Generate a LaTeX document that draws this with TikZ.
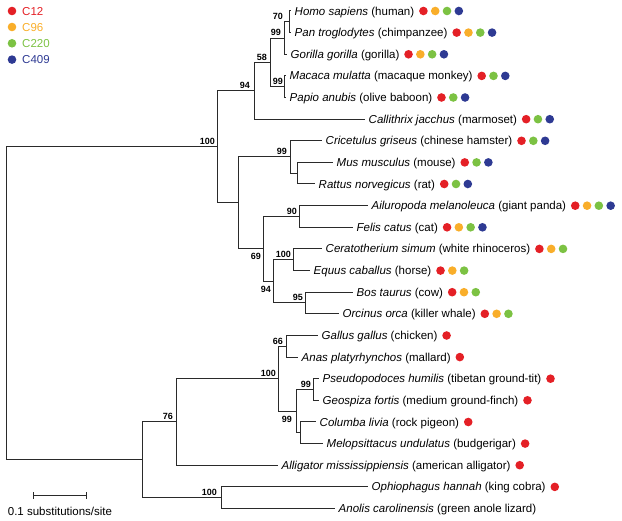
\documentclass[tikz,border=0pt]{standalone}
\usepackage{fontspec}
\setmainfont{Liberation Sans}
\definecolor{cR}{HTML}{E42026}
\definecolor{cO}{HTML}{F9AE2A}
\definecolor{cG}{HTML}{7CC243}
\definecolor{cB}{HTML}{2E3A93}
\definecolor{treec}{HTML}{2A2A2A}
\newcommand\markrow[2]{%
  \foreach \cc [count=\ii from 0] in {#2}{%
    \node[dotm, fill=\cc] (#1-\ii) at ([xshift={5.5pt+\ii*11.8pt}]#1.east) {};}}
\begin{document}
\begin{tikzpicture}[x=1pt,y=-1pt,
  branch/.style={draw=treec, line width=1pt},
  leaf/.style={anchor=west, inner xsep=3.5pt, inner ysep=0pt, text height=8.3pt, text depth=0.1pt, font=\fontsize{11.5}{13}\selectfont},
  dotm/.style={circle, inner sep=0pt, minimum size=8.6pt, draw=none},
  bs/.style={anchor=south east, inner sep=0pt, font=\bfseries\fontsize{9}{10}\selectfont, xshift=-2pt, yshift=2pt},
  bsb/.style={anchor=north east, inner sep=0pt, font=\bfseries\fontsize{9}{10}\selectfont, xshift=-2pt, yshift=-4.5pt},
]
\useasboundingbox (0,0) rectangle (622,521);

% legend
\node[dotm, fill=cR] (lg1) at (12,11) {};
\node[dotm, fill=cO] (lg2) at (12,27) {};
\node[dotm, fill=cG] (lg3) at (12,43.3) {};
\node[dotm, fill=cB] (lg4) at (12,59.6) {};
\node[leaf, text=cR] (lt1) at (18.5,11) {C12};
\node[leaf, text=cO] (lt2) at (18.5,27) {C96};
\node[leaf, text=cG] (lt3) at (18.5,43.3) {C220};
\node[leaf, text=cB] (lt4) at (18.5,59.6) {C409};

% internal nodes
\coordinate (root) at (6,303.4);
\coordinate (mam) at (217,146.9);
\coordinate (prim) at (254,90.8);
\coordinate (n58) at (270,62.4);
\coordinate (hpg) at (284,38.05);
\coordinate (hp) at (289,21.8);
\coordinate (mp) at (284,86.7);
\coordinate (n238) at (238,203);
\coordinate (rod) at (290,157);
\coordinate (mr) at (297,173.2);
\coordinate (laur) at (263,249);
\coordinate (pf) at (299,216.5);
\coordinate (ung) at (273,281.4);
\coordinate (rh) at (293,259.75);
\coordinate (bo) at (305,303);
\coordinate (sau) at (142,459.8);
\coordinate (arch) at (176,422);
\coordinate (birds) at (278,378.7);
\coordinate (ga) at (286,346.3);
\coordinate (nb) at (296,411.15);
\coordinate (pg) at (313,389.5);
\coordinate (cm) at (300,432.8);
\coordinate (squ) at (221,497.7);

% leaves
\node[leaf] (homo) at (291,11) {\textit{Homo sapiens} (human)};
\node[leaf] (pan) at (291,32.6) {\textit{Pan troglodytes} (chimpanzee)};
\node[leaf] (gor) at (287,54.3) {\textit{Gorilla gorilla} (gorilla)};
\node[leaf] (mac) at (286,75.9) {\textit{Macaca mulatta} (macaque monkey)};
\node[leaf] (pap) at (286,97.5) {\textit{Papio anubis} (olive baboon)};
\node[leaf] (cal) at (365,119.2) {\textit{Callithrix jacchus} (marmoset)};
\node[leaf] (cri) at (322,140.8) {\textit{Cricetulus griseus} (chinese hamster)};
\node[leaf] (mus) at (333,162.4) {\textit{Mus musculus} (mouse)};
\node[leaf] (rat) at (315,184) {\textit{Rattus norvegicus} (rat)};
\node[leaf] (ail) at (368,205.7) {\textit{Ailuropoda melanoleuca} (giant panda)};
\node[leaf] (fel) at (353,227.3) {\textit{Felis catus} (cat)};
\node[leaf] (cer) at (322,248.9) {\textit{Ceratotherium simum} (white rhinoceros)};
\node[leaf] (equ) at (310,270.6) {\textit{Equus caballus} (horse)};
\node[leaf] (bos) at (353,292.2) {\textit{Bos taurus} (cow)};
\node[leaf] (orc) at (339,313.8) {\textit{Orcinus orca} (killer whale)};
\node[leaf] (gal) at (318,335.5) {\textit{Gallus gallus} (chicken)};
\node[leaf] (ana) at (298,357.1) {\textit{Anas platyrhynchos} (mallard)};
\node[leaf] (pse) at (319,378.7) {\textit{Pseudopodoces humilis} (tibetan ground-tit)};
\node[leaf] (geo) at (319,400.3) {\textit{Geospiza fortis} (medium ground-finch)};
\node[leaf] (col) at (316,422) {\textit{Columba livia} (rock pigeon)};
\node[leaf] (mel) at (323,443.6) {\textit{Melopsittacus undulatus} (budgerigar)};
\node[leaf] (all) at (278,465.2) {\textit{Alligator mississippiensis} (american alligator)};
\node[leaf] (oph) at (368,486.9) {\textit{Ophiophagus hannah} (king cobra)};
\node[leaf] (ano) at (335,508.5) {\textit{Anolis carolinensis} (green anole lizard)};

% branches
\draw[branch] (root) |- (mam);
\draw[branch] (root) |- (sau);
\draw[branch] (mam) |- (prim);
\draw[branch] (mam) |- (n238);
\draw[branch] (prim) |- (n58);
\draw[branch] (prim) |- (cal.west);
\draw[branch] (n58) |- (hpg);
\draw[branch] (n58) |- (mp);
\draw[branch] (hpg) |- (hp);
\draw[branch] (hpg) |- (gor.west);
\draw[branch] (hp) |- (homo.west);
\draw[branch] (hp) |- (pan.west);
\draw[branch] (mp) |- (mac.west);
\draw[branch] (mp) |- (pap.west);
\draw[branch] (n238) |- (rod);
\draw[branch] (n238) |- (laur);
\draw[branch] (rod) |- (cri.west);
\draw[branch] (rod) |- (mr);
\draw[branch] (mr) |- (mus.west);
\draw[branch] (mr) |- (rat.west);
\draw[branch] (laur) |- (pf);
\draw[branch] (laur) |- (ung);
\draw[branch] (pf) |- (ail.west);
\draw[branch] (pf) |- (fel.west);
\draw[branch] (ung) |- (rh);
\draw[branch] (ung) |- (bo);
\draw[branch] (rh) |- (cer.west);
\draw[branch] (rh) |- (equ.west);
\draw[branch] (bo) |- (bos.west);
\draw[branch] (bo) |- (orc.west);
\draw[branch] (sau) |- (arch);
\draw[branch] (sau) |- (squ);
\draw[branch] (arch) |- (birds);
\draw[branch] (arch) |- (all.west);
\draw[branch] (birds) |- (ga);
\draw[branch] (birds) |- (nb);
\draw[branch] (ga) |- (gal.west);
\draw[branch] (ga) |- (ana.west);
\draw[branch] (nb) |- (pg);
\draw[branch] (nb) |- (cm);
\draw[branch] (pg) |- (pse.west);
\draw[branch] (pg) |- (geo.west);
\draw[branch] (cm) |- (col.west);
\draw[branch] (cm) |- (mel.west);
\draw[branch] (squ) |- (oph.west);
\draw[branch] (squ) |- (ano.west);

% bootstrap values
\node[bs] (b-mam) at (mam) {100};
\node[bs, xshift=-2pt] (b-prim) at (prim) {94};
\node[bs, xshift=-1pt] (b-n58) at (n58) {58};
\node[bs, xshift=-1pt] (b-hpg) at (hpg) {99};
\node[bs, xshift=-4pt] (b-hp) at (hp) {70};
\node[bs, xshift=1pt] (b-mp) at (mp) {99};
\node[bs, xshift=-1pt] (b-rod) at (rod) {99};
\node[bsb] (b-laur) at (laur) {69};
\node[bs] (b-pf) at (pf) {90};
\node[bsb] (b-ung) at (ung) {94};
\node[bs] (b-rh) at (rh) {100};
\node[bs] (b-bo) at (bo) {95};
\node[bs, xshift=-1pt] (b-arch) at (arch) {76};
\node[bs] (b-birds) at (birds) {100};
\node[bs, xshift=-1pt] (b-ga) at (ga) {66};
\node[bsb, xshift=-2pt] (b-nb) at (nb) {99};
\node[bs] (b-pg) at (pg) {99};
\node[bs, xshift=-2pt] (b-squ) at (squ) {100};

% markers
\markrow{homo}{cR,cO,cG,cB}
\markrow{pan}{cR,cO,cG,cB}
\markrow{gor}{cR,cO,cG,cB}
\markrow{mac}{cR,cG,cB}
\markrow{pap}{cR,cG,cB}
\markrow{cal}{cR,cG,cB}
\markrow{cri}{cR,cG,cB}
\markrow{mus}{cR,cG,cB}
\markrow{rat}{cR,cG,cB}
\markrow{ail}{cR,cO,cG,cB}
\markrow{fel}{cR,cO,cG,cB}
\markrow{cer}{cR,cO,cG}
\markrow{equ}{cR,cO,cG}
\markrow{bos}{cR,cO,cG}
\markrow{orc}{cR,cO,cG}
\markrow{gal}{cR}
\markrow{ana}{cR}
\markrow{pse}{cR}
\markrow{geo}{cR}
\markrow{col}{cR}
\markrow{mel}{cR}
\markrow{all}{cR}
\markrow{oph}{cR}

% scale bar
\coordinate (sbL) at (33,496);
\coordinate (sbR) at (86,496);
\draw[branch] (sbL) -- (sbR);
\draw[branch] ([yshift=3.5pt]sbL) -- ([yshift=-3.5pt]sbL);
\draw[branch] ([yshift=3.5pt]sbR) -- ([yshift=-3.5pt]sbR);
\node[anchor=base, inner sep=0pt, font=\fontsize{11.5}{13}\selectfont] (sbt) at (60,515.5) {0.1 substitutions/site};
\end{tikzpicture}
\end{document}
